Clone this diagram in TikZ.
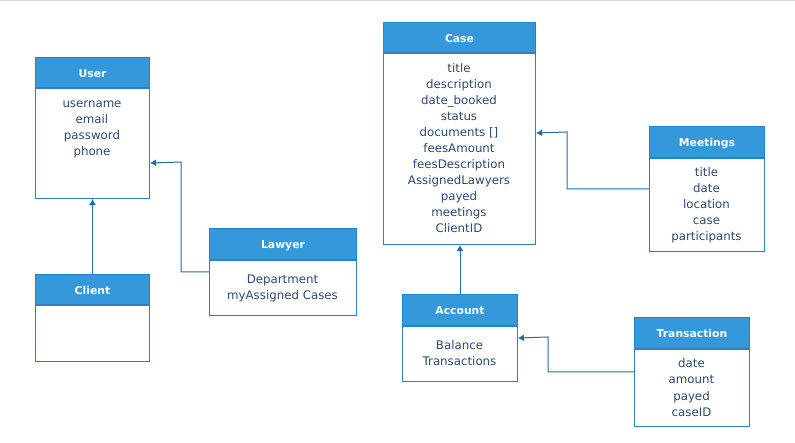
\documentclass[tikz,border=0pt]{standalone}
\usepackage{fontspec}
\setmainfont{DejaVu Sans}
\usetikzlibrary{arrows.meta,calc}

\definecolor{hdrblue}{HTML}{3498DB}
\definecolor{edgeblue}{HTML}{2F7FC4}
\definecolor{linkblue}{HTML}{2A6AA0}
\definecolor{attrtext}{HTML}{2E4A6E}

\tikzset{
  hdr/.style={draw=edgeblue, fill=hdrblue, line width=1pt, text=white,
    font=\bfseries\fontsize{10.8}{12}\selectfont, text height=10pt, text depth=0pt,
    inner sep=0pt},
  cls/.style={draw=edgeblue, fill=white, line width=1pt, inner sep=0pt},
  attr/.style={text=attrtext, font=\fontsize{11.8}{14}\selectfont, inner sep=0pt, anchor=base},
  link/.style={draw=linkblue, line width=1pt, -{Latex[length=6pt,width=7pt]}}
}

\begin{document}
\begin{tikzpicture}[x=1pt, y=-1pt]
    \useasboundingbox (0,0) rectangle (795,443);
    \draw[black!15, line width=1.5pt] (0,0.75) -- (795,0.75);

    % User
    \node[hdr, minimum width=114, minimum height=30, anchor=north west] (user) at (35,57) {User};
    \node[cls, minimum width=114, minimum height=110, anchor=north] (userbody) at (user.south) {};
    \foreach \a [count=\i from 0] in {username,email,password,phone}
      \node[attr] (user-\i) at (92,108+16*\i) {\a};

    % Client
    \node[hdr, minimum width=114, minimum height=30, anchor=north west] (client) at (35,274) {Client};
    \node[cls, minimum width=114, minimum height=56, anchor=north] (clientbody) at (client.south) {};

    % Lawyer
    \node[hdr, minimum width=147, minimum height=31, anchor=north west] (lawyer) at (209,228) {Lawyer};
    \node[cls, minimum width=147, minimum height=55, anchor=north] (lawyerbody) at (lawyer.south) {};
    \foreach \a [count=\i from 0] in {Department,myAssigned Cases}
      \node[attr] (lawyer-\i) at (282.5,284+16*\i) {\a};

    % Case
    \node[hdr, minimum width=152, minimum height=30, anchor=north west] (case) at (383,22) {Case};
    \node[cls, minimum width=152, minimum height=191, anchor=north] (casebody) at (case.south) {};
    \foreach \a [count=\i from 0] in {title,description,date\_booked,status,{documents []},feesAmount,
        feesDescription,AssignedLawyers,payed,meetings,ClientID}
      \node[attr] (case-\i) at (459,73+16*\i) {\a};

    % Meetings
    \node[hdr, minimum width=115, minimum height=31, anchor=north west] (meetings) at (649,126) {Meetings};
    \node[cls, minimum width=115, minimum height=93, anchor=north] (meetingsbody) at (meetings.south) {};
    \foreach \a [count=\i from 0] in {title,date,location,case,participants}
      \node[attr] (meetings-\i) at (706.5,177+16*\i) {\a};

    % Account
    \node[hdr, minimum width=115, minimum height=31, anchor=north west] (account) at (402,294) {Account};
    \node[cls, minimum width=115, minimum height=55, anchor=north] (accountbody) at (account.south) {};
    \foreach \a [count=\i from 0] in {Balance,Transactions}
      \node[attr] (account-\i) at (459.5,350+16*\i) {\a};

    % Transaction
    \node[hdr, minimum width=115, minimum height=31, anchor=north west] (transaction) at (634,317) {Transaction};
    \node[cls, minimum width=115, minimum height=77, anchor=north] (transactionbody) at (transaction.south) {};
    \foreach \a [count=\i from 0] in {date,amount,payed,caseID}
      \node[attr] (transaction-\i) at (691.5,368+16*\i) {\a};

    % links
    \draw[link] (client.north) -- (userbody.south);
    \draw[link] ($(lawyerbody.north west)+(0,12)$) -| (181,162) -- ($(userbody.north east)+(0,75)$);
    \draw[link] (account.north) -- (account.north |- casebody.south);
    \draw[link] ($(meetingsbody.north west)+(0,31)$) -| (567,132) -- ($(casebody.north east)+(0,80)$);
    \draw[link] ($(transactionbody.north west)+(0,23)$) -| (548,337) -- ($(accountbody.north east)+(0,12)$);
  \end{tikzpicture}
\end{document}
